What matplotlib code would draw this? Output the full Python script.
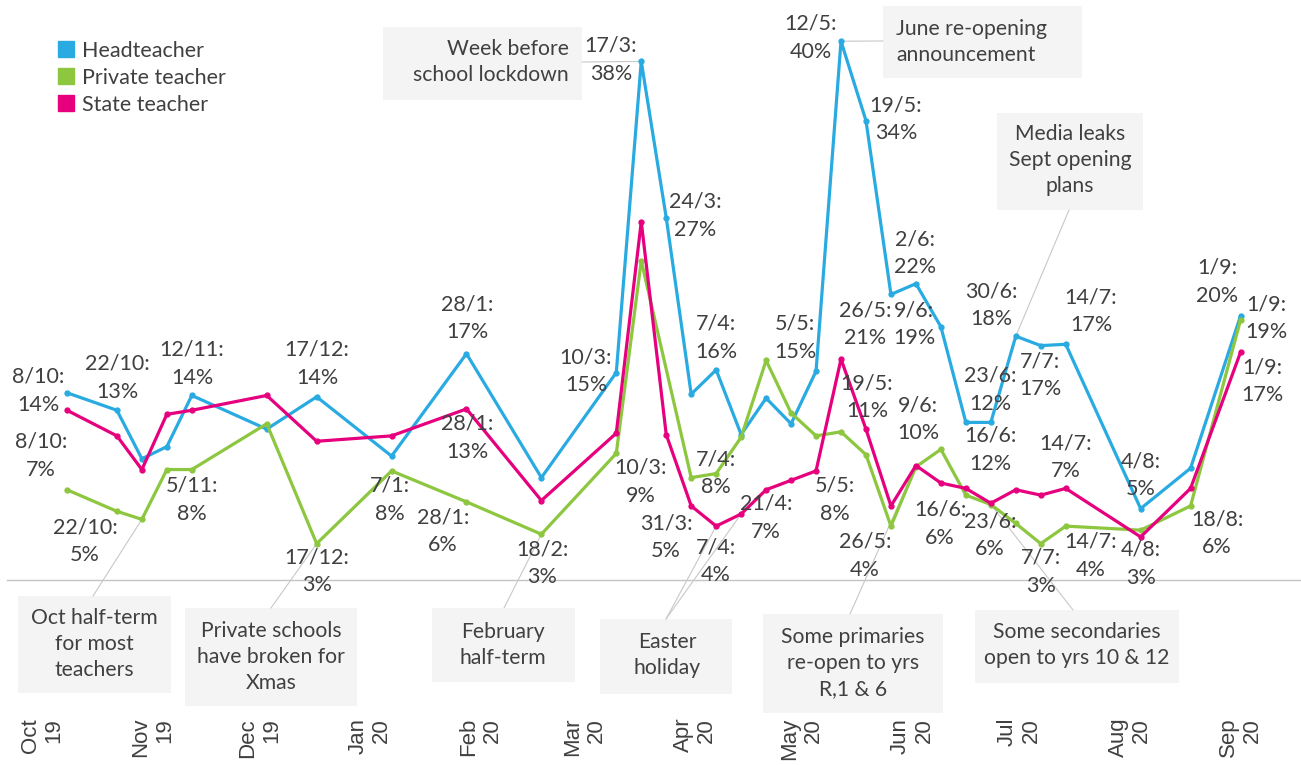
import numpy as np
import pandas as pd
import matplotlib
matplotlib.use('Agg')
import matplotlib.pyplot as plt
import matplotlib.dates as mdates
from matplotlib.lines import Line2D
from matplotlib.patches import Rectangle

plt.rcParams['font.family'] = ['Lato', 'DejaVu Sans']

W, H = 1301, 765

# survey dates (weekly-ish, Tuesdays)
dates = pd.to_datetime([
    '2019-10-08', '2019-10-22', '2019-10-29', '2019-11-05', '2019-11-12',
    '2019-12-03', '2019-12-17', '2020-01-07', '2020-01-28', '2020-02-18',
    '2020-03-10', '2020-03-17', '2020-03-24', '2020-03-31', '2020-04-07',
    '2020-04-14', '2020-04-21', '2020-04-28', '2020-05-05', '2020-05-12',
    '2020-05-19', '2020-05-26', '2020-06-02', '2020-06-09', '2020-06-16',
    '2020-06-23', '2020-06-30', '2020-07-07', '2020-07-14', '2020-08-04',
    '2020-08-18', '2020-09-01'])

# % values (None = no point drawn)
head = [13.9, 12.6, 9.0, 9.9, 13.7, 11.2, 13.6, 9.2, 16.8, 7.6,
        15.4, 38.5, 26.9, 13.8, 15.6, 10.8, 13.5, 11.6, 15.5, 40.0,
        34.1, 21.2, 22.0, 18.8, 11.7, 11.7, 18.1, 17.4, 17.5, 5.3,
        8.3, 19.6]
private = [6.7, 5.1, 4.5, 8.2, 8.2, 11.6, 2.7, 8.1, 5.8, 3.4,
           9.4, 23.7, None, 7.6, 7.9, 10.6, 16.3, 12.4, 10.7, 11.0,
           9.3, 4.0, 8.4, 9.7, 6.3, 5.6, 4.2, 2.7, 4.0, 3.7,
           5.5, 19.3]
state = [12.6, 10.7, 8.2, 12.3, 12.6, 13.7, 10.3, 10.7, 12.7, 5.9,
         10.9, 26.6, 10.8, 5.5, 4.0, 4.9, 6.7, 7.4, 8.1, 16.4,
         11.2, 5.5, 8.5, 7.2, 6.8, 5.7, 6.7, 6.3, 6.8, 3.2,
         6.8, 16.9]

series_names = ['Headteacher', 'Private teacher', 'State teacher']

months = pd.date_range('2019-10-01', '2020-09-01', freq='MS')
month_labels = ['Oct\n19', 'Nov\n19', 'Dec\n19', 'Jan\n20', 'Feb\n20', 'Mar\n20',
                'Apr\n20', 'May\n20', 'Jun\n20', 'Jul\n20', 'Aug\n20', 'Sep\n20']

# point labels: text, centre x, centre y (pixels)
point_labels = [
    ('8/10:\n14%', 38, 391), ('22/10:\n13%', 117, 378), ('12/11:\n14%', 192, 364),
    ('17/12:\n14%', 317, 364), ('28/1:\n17%', 467, 318), ('10/3:\n15%', 586, 371),
    ('17/3:\n38%', 611, 60), ('24/3:\n27%', 695, 216), ('7/4:\n16%', 716, 338),
    ('5/5:\n15%', 795, 338), ('12/5:\n40%', 811, 38), ('19/5:\n34%', 896, 119),
    ('26/5:\n21%', 865, 324), ('2/6:\n22%', 915, 253), ('9/6:\n19%', 914, 324),
    ('30/6:\n18%', 991, 305), ('23/6:\n12%', 990, 390), ('16/6:\n12%', 990, 450),
    ('7/7:\n17%', 1040, 375), ('14/7:\n17%', 1091, 311), ('4/8:\n5%', 1141, 475),
    ('1/9:\n20%', 1217, 282), ('1/9:\n19%', 1266, 318), ('1/9:\n17%', 1262, 381),
    ('8/10:\n7%', 41, 456), ('22/10:\n5%', 85, 541), ('5/11:\n8%', 192, 500),
    ('17/12:\n3%', 317, 571), ('7/1:\n8%', 390, 500), ('28/1:\n6%', 443, 531),
    ('28/1:\n13%', 467, 438), ('18/2:\n3%', 542, 563), ('10/3:\n9%', 641, 482),
    ('31/3:\n5%', 666, 537), ('7/4:\n8%', 716, 473), ('7/4:\n4%', 716, 561),
    ('21/4:\n7%', 766, 518), ('5/5:\n8%', 835, 500), ('19/5:\n11%', 867, 397),
    ('26/5:\n4%', 865, 556), ('9/6:\n10%', 918, 419), ('16/6:\n6%', 940, 524),
    ('23/6:\n6%', 990, 535), ('7/7:\n3%', 1041, 572), ('14/7:\n7%', 1066, 457),
    ('14/7:\n4%', 1091, 556), ('4/8:\n3%', 1141, 564), ('18/8:\n6%', 1217, 533),
]

# event boxes: text, box (x0, y0, x1, y1), text anchor (x, y, align), line start, targets
events = [
    ('Week before\nschool lockdown', (383, 27, 582, 100), (569, 62, 'right'), (582, 62), [(0, 11)]),
    ('June re-opening\nannouncement', (883, 6, 1082, 78), (896, 42, 'left'), (883, 41), [(0, 19)]),
    ('Media leaks\nSept opening\nplans', (997, 113, 1143, 210), (1070, 160, 'center'), (1069, 210), [(0, 26)]),
    ('Oct half-term\nfor most\nteachers', (18, 596, 171, 693), (94, 644, 'center'), (93, 596), [(1, 2)]),
    ('Private schools\nhave broken for\nXmas', (185, 608, 357, 706), (271, 657, 'center'), (271, 608), [(1, 6)]),
    ('February\nhalf-term', (432, 608, 575, 682), (503, 645, 'center'), (504, 608), [(1, 9)]),
    ('Easter\nholiday', (600, 619, 732, 694), (667, 655, 'center'), (666, 619), [(2, 14), (2, 15)]),
    ('Some primaries\nre-open to yrs\nR,1 & 6', (763, 614, 943, 713), (853, 663, 'center'), (850, 614), [(2, 22)]),
    ('Some secondaries\nopen to yrs 10 & 12', (975, 610, 1179, 683), (1077, 645, 'center'), (1073, 610), [(1, 25)]),
]

BLUE = '#29abe2'
GREEN = '#8dc63f'
PINK = '#e6007e'
TXT = '#404040'
colors = [BLUE, GREEN, PINK]


def fx(x):
    return x / W


def fy(y):
    return 1 - y / H


fig = plt.figure(figsize=(W / 100, H / 100), dpi=100)
ax = fig.add_axes([0, 0, 1, 1])
ax.patch.set_alpha(0)

x = mdates.date2num(dates)
all_series = [head, private, state]

for vals, c in zip(all_series, colors):
    s = pd.Series(np.array(vals, dtype=float), index=x).dropna()
    ax.plot(s.index, s.values, color=c, lw=2.3, marker='o', ms=3.5, zorder=5)

# pixel -> data mapping: 1 Oct at x=42px, 3.567 px/day, 0% at y=580px, 13.47 px/%
x0 = mdates.date2num(pd.Timestamp('2019-10-01'))
ax.set_xlim(x0 - 42 / 3.567, x0 + (W - 42) / 3.567)
ax.set_ylim((580 - H) / 13.47, 580 / 13.47)

ax.axhline(0, xmin=0.005, color='#c4c4c4', lw=1, zorder=1)

for sp in ax.spines.values():
    sp.set_visible(False)
ax.set_yticks([])
ax.set_xticks(mdates.date2num(months))
ax.set_xticklabels(month_labels, rotation=90, fontsize=16, color=TXT,
                   family=['Liberation Sans', 'DejaVu Sans'], linespacing=1.15)
ax.tick_params(axis='x', length=0, pad=-34)
for lbl in ax.get_xticklabels():
    lbl.set_multialignment('right')

# event boxes and connector lines
for text, (bx0, by0, bx1, by1), (tx, ty, al), (lx, ly), targets in events:
    ax.add_patch(Rectangle((fx(bx0), fy(by1)), fx(bx1 - bx0), (by1 - by0) / H,
                           transform=fig.transFigure, facecolor='#f4f4f4',
                           edgecolor='none', zorder=0))
    fig.text(fx(tx), fy(ty), text, ha=al, va='center', multialignment=al,
             fontsize=15.2, color=TXT, linespacing=1.4)
    for si, di in targets:
        ax.annotate('', xy=(x[di], all_series[si][di]), xycoords='data',
                    xytext=(fx(lx), fy(ly)), textcoords='figure fraction',
                    arrowprops=dict(arrowstyle='-', color='#c8c8c8', lw=0.8,
                                    shrinkA=0, shrinkB=0), zorder=2)

for text, tx, ty in point_labels:
    fig.text(fx(tx), fy(ty), text, ha='center', va='center', multialignment='center',
             fontsize=15.5, color=TXT, linespacing=1.5)

handles = [Line2D([], [], marker='s', ls='none', color=c, markersize=11.5) for c in colors]
ax.legend(handles, series_names, loc='upper left', bbox_to_anchor=(fx(55), fy(41)),
          frameon=False, fontsize=15.5, handletextpad=0.25, labelspacing=0.32,
          borderaxespad=0, borderpad=0, handlelength=1.0, labelcolor=TXT)

fig.savefig('out.png', dpi=100)
